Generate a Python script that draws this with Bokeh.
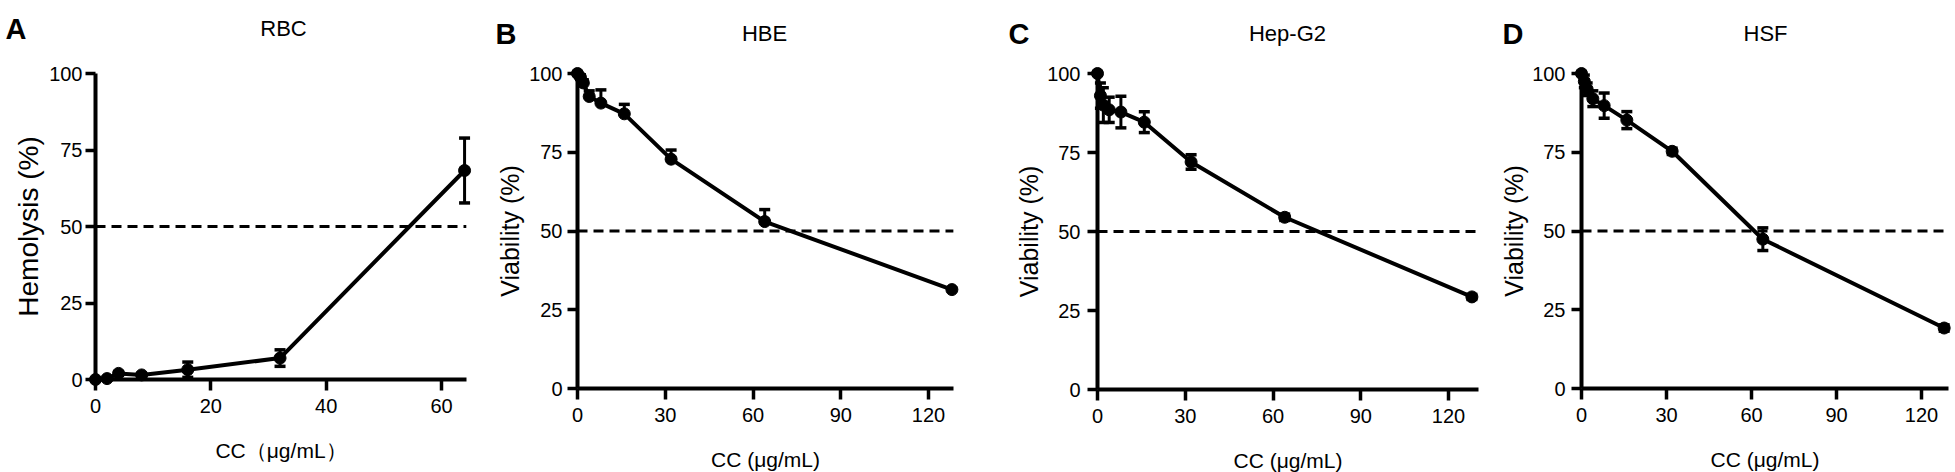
from bokeh.plotting import figure
from bokeh.layouts import row
from bokeh.models import Range1d, FixedTicker
from bokeh.embed import file_html
from bokeh.resources import INLINE
from bokeh.core.properties import value

# ---------------- data ----------------
conc_rbc = [0, 2, 4, 8, 16, 32, 64]
hemolysis_rbc = [0.0, 0.3, 2.0, 1.5, 3.2, 7.0, 68.3]
hemolysis_rbc_sd = [0.3, 0.4, 0.6, 0.5, 2.5, 2.7, 10.6]

conc_cells = [0, 1, 2, 4, 8, 16, 32, 64, 128]
viability_hbe = [100.0, 98.8, 97.0, 92.7, 90.6, 87.2, 72.8, 53.0, 31.4]
viability_hbe_sd = [0.4, 0.8, 1.0, 1.8, 4.2, 3.0, 2.9, 3.8, 0.5]
viability_hepg2 = [100.0, 93.0, 90.0, 88.5, 87.8, 84.6, 72.0, 54.5, 29.3]
viability_hepg2_sd = [0.5, 4.0, 5.5, 4.0, 5.0, 3.3, 2.3, 1.0, 0.8]
viability_hsf = [100.0, 97.5, 95.0, 92.0, 89.8, 85.2, 75.3, 47.4, 19.2]
viability_hsf_sd = [0.5, 2.0, 2.0, 2.5, 4.0, 2.7, 1.0, 3.6, 1.0]

panel_letters = ["A", "B", "C", "D"]
panel_titles = ["RBC", "HBE", "Hep-G2", "HSF"]
y_labels = ["Hemolysis (%)", "Viability (%)", "Viability (%)", "Viability (%)"]
x_labels = ["CC（μg/mL）", "CC (μg/mL)", "CC (μg/mL)", "CC (μg/mL)"]
y_ticks = [0, 25, 50, 75, 100]
x_ticks_rbc = [0, 20, 40, 60]
x_ticks_cells = [0, 30, 60, 90, 120]
x_axis_max = [64.3, 128.5, 130.3, 129.5]
y_axis_max = 100
cutoff_level = 50

series = [
    (conc_rbc, hemolysis_rbc, hemolysis_rbc_sd, x_ticks_rbc, False),
    (conc_cells, viability_hbe, viability_hbe_sd, x_ticks_cells, True),
    (conc_cells, viability_hepg2, viability_hepg2_sd, x_ticks_cells, False),
    (conc_cells, viability_hsf, viability_hsf_sd, x_ticks_cells, False),
]

# ---------------- layout (page pixels) ----------------
TOP = 0
BOTTOM = 472
layouts = [
    dict(left=0, right=490, px0=95, ppu=(441 - 95) / 60, py100=73, py0=379,
         ylab_size="28px", ytick_standoff=3, ylab_standoff=2, xlab_standoff=23,
         letter_x=5, title_x=283),
    dict(left=490, right=985, px0=577, ppu=(928 - 577) / 120, py100=68, py0=383,
         ylab_size="25px", ytick_standoff=5, ylab_standoff=2, xlab_standoff=23,
         letter_x=495, title_x=764),
    dict(left=985, right=1488, px0=1097, ppu=(1448 - 1097) / 120, py100=68, py0=384,
         ylab_size="25px", ytick_standoff=7, ylab_standoff=1, xlab_standoff=23,
         letter_x=1008, title_x=1287),
    dict(left=1488, right=1955, px0=1581, ppu=(1921 - 1581) / 120, py100=68, py0=383,
         ylab_size="25px", ytick_standoff=6, ylab_standoff=1, xlab_standoff=23,
         letter_x=1502, title_x=1765),
]

SANS = "Liberation Sans"


def make_panel(i):
    L = layouts[i]
    xs, ys, sds, xticks, upper_only = series[i]
    ppu = L["ppu"]
    ppy = (L["py0"] - L["py100"]) / 100.0
    xmax = x_axis_max[i]

    fl = L["px0"]
    fr = round(L["px0"] + xmax * ppu)
    ft = L["py100"]
    fb = L["py0"]

    p = figure(frame_width=fr - fl, frame_height=fb - ft,
               min_border_left=fl - L["left"], min_border_right=L["right"] - fr,
               min_border_top=ft - TOP, min_border_bottom=BOTTOM - fb,
               x_range=Range1d(0, (fr - fl) / ppu), y_range=Range1d(0, y_axis_max),
               output_backend="svg", toolbar_location=None)
    p.outline_line_color = None
    p.xgrid.visible = False
    p.ygrid.visible = False
    p.background_fill_color = "white"
    p.border_fill_color = "white"

    for ax in (p.xaxis, p.yaxis):
        ax.axis_line_width = 4
        ax.axis_line_color = "black"
        ax.major_tick_line_width = 3.5
        ax.major_tick_line_color = "black"
        ax.minor_tick_line_color = None
        ax.major_tick_in = 0
        ax.major_label_text_font = SANS
        ax.major_label_text_font_size = "20px"
        ax.major_label_text_color = "black"
        ax.axis_label_text_font = SANS
        ax.axis_label_text_font_style = "normal"
        ax.axis_label_text_color = "black"

    p.yaxis.bounds = (0, y_axis_max)
    p.yaxis.ticker = FixedTicker(ticks=y_ticks)
    p.yaxis.major_tick_out = 10
    p.yaxis.major_label_standoff = L["ytick_standoff"]
    p.yaxis.axis_label = y_labels[i]
    p.yaxis.axis_label_text_font_size = L["ylab_size"]
    p.yaxis.axis_label_standoff = L["ylab_standoff"]

    p.xaxis.bounds = (0, xmax)
    p.xaxis.ticker = FixedTicker(ticks=xticks)
    p.xaxis.major_tick_out = 11
    p.xaxis.major_label_standoff = 8
    p.xaxis.axis_label = x_labels[i]
    p.xaxis.axis_label_text_font_size = "21px"
    p.xaxis.axis_label_standoff = L["xlab_standoff"]

    # 50 % reference line
    p.line([0, xmax], [cutoff_level, cutoff_level], line_color="black",
           line_width=3, line_dash="10 6", level="overlay")

    # error bars (stems + caps)
    upper = [y + s for y, s in zip(ys, sds)]
    lower = list(ys) if upper_only else [y - s for y, s in zip(ys, sds)]
    p.segment(x0=xs, y0=lower, x1=xs, y1=upper, line_color="black", line_width=3, level="overlay")
    p.scatter(xs, upper, marker="dash", size=11, line_color="black", line_width=3.5, level="overlay")
    if not upper_only:
        p.scatter(xs, lower, marker="dash", size=11, line_color="black", line_width=3.5, level="overlay")

    # curve and points
    p.line(xs, ys, line_color="black", line_width=4, level="overlay")
    p.scatter(xs, ys, size=12, marker="circle", fill_color="black", line_color="black", level="overlay")

    # panel letter and title, positioned from page pixels
    def dx(px):
        return (px - L["px0"]) / ppu

    def dy(py):
        return (L["py0"] - py) / ppy

    p.text(x=[dx(L["letter_x"])], y=[dy(28)], text=[panel_letters[i]],
           text_font=value(SANS), text_font_size="29px", text_font_style="bold",
           text_align="left", text_baseline="alphabetic", text_color="black", level="overlay")
    p.text(x=[dx(L["title_x"])], y=[dy(28)], text=[panel_titles[i]],
           text_font=value(SANS), text_font_size="22px",
           text_align="center", text_baseline="alphabetic", text_color="black", level="overlay")
    return p


panels = [make_panel(i) for i in range(4)]
layout = row(*panels)
open("out.html", "w").write(file_html(layout, INLINE))
